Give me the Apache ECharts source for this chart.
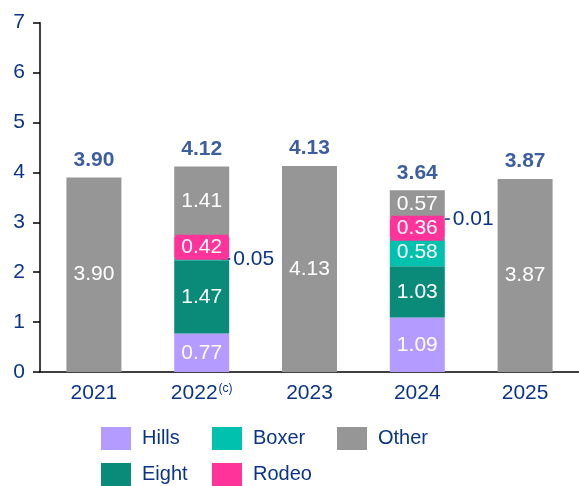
<!DOCTYPE html>
<html>
<head>
<meta charset="utf-8">
<script src="https://cdn.jsdelivr.net/npm/echarts@6/dist/echarts.min.js"></script>
<style>
  html, body { margin: 0; padding: 0; background: #fff; }
  #chart { width: 579px; height: 486px; }
</style>
</head>
<body>
<div id="chart"></div>
<script>
// data
var years = ['2021', '2022', '2023', '2024', '2025'];
var hills = [0, 0.77, 0, 1.09, 0];
var eight = [0, 1.47, 0, 1.03, 0];
var boxer = [0, 0.05, 0, 0.58, 0];
var rodeo = [0, 0.42, 0, 0.36, 0];
var extra = [0, 0, 0, 0.01, 0];   // small unlabelled piece in 2024
var other = [3.90, 1.41, 4.13, 0.57, 3.87];
var totals = [3.90, 4.12, 4.13, 3.64, 3.87];

var blue = '#0B3487';
var colors = {
  Hills: '#B39BFF',
  Eight: '#0A8A78',
  Boxer: '#00C0AE',
  Rodeo: '#FF3399',
  Other: '#969696'
};
var font = 'Arial, "Liberation Sans", sans-serif';

function fmt(v) { return v.toFixed(2); }

var insideLabel = {
  show: true,
  position: 'inside',
  color: '#fff',
  fontSize: 21,
  fontFamily: font,
  formatter: function (p) { return p.value ? fmt(p.value) : ''; }
};

// label that sits to the right of the bar with a short leader line
function sideLabel(lineW, dist) {
  return {
    show: true,
    position: 'right',
    distance: dist,
    formatter: function (p) { return '{l|}{v|' + fmt(p.value) + '}'; },
    rich: {
      l: { width: lineW, height: 1.5, backgroundColor: blue },
      v: { fontSize: 21, color: blue, fontFamily: font, padding: [0, 0, 0, 3] }
    }
  };
}

function toData(arr, special) {
  return arr.map(function (v, i) {
    if (special && special[i]) return { value: v, label: special[i] };
    if (!v) return { value: v, label: { show: false } };
    return v;
  });
}

function barSeries(name, arr, extraOpts) {
  var s = {
    name: name,
    type: 'bar',
    stack: 'total',
    barWidth: 55,
    itemStyle: { color: colors[name] },
    label: insideLabel,
    data: toData(arr)
  };
  for (var k in extraOpts) s[k] = extraOpts[k];
  return s;
}

var chart = echarts.init(document.getElementById('chart'));

function legendItem(name, left, top) {
  return {
    data: [name],
    left: left,
    top: top,
    selectedMode: false,
    icon: 'rect',
    itemWidth: 30,
    itemHeight: 23,
    textStyle: { fontSize: 20, color: blue, fontFamily: font, padding: [0, 0, 0, 6] }
  };
}

chart.setOption({
  animation: false,
  textStyle: { fontFamily: font },
  grid: { left: 40, right: -6, top: 22.7, bottom: 114 },
  legend: [
    legendItem('Hills', 96, 422),
    legendItem('Boxer', 207, 422),
    legendItem('Other', 332, 422),
    legendItem('Eight', 96, 458),
    legendItem('Rodeo', 207, 458)
  ],
  xAxis: {
    type: 'category',
    data: years,
    axisLine: { lineStyle: { color: '#000', width: 1.5 } },
    axisTick: { show: false },
    axisLabel: {
      interval: 0,
      color: blue,
      fontSize: 21,
      margin: 11,
      formatter: function (v) { return v === '2022' ? v + '{sup|(c)}' : v; },
      rich: {
        sup: { fontSize: 12, color: blue, padding: [0, 0, 9, 1] }
      }
    }
  },
  yAxis: {
    type: 'value',
    min: 0,
    max: 7,
    interval: 1,
    axisLine: { show: true, lineStyle: { color: '#000', width: 1.5 } },
    axisTick: { show: true, length: 7, lineStyle: { color: '#000', width: 1.5 } },
    splitLine: { show: false },
    axisLabel: { color: blue, fontSize: 21, margin: 15 }
  },
  series: [
    barSeries('Hills', hills),
    barSeries('Eight', eight),
    {
      name: 'Boxer',
      type: 'bar',
      stack: 'total',
      barWidth: 55,
      itemStyle: { color: colors.Boxer },
      label: insideLabel,
      data: toData(boxer, { 1: sideLabel(9, -8) })
    },
    barSeries('Rodeo', rodeo, {
      label: {
        show: true,
        position: 'inside',
        color: '#fff',
        fontSize: 21,
        backgroundColor: colors.Rodeo,
        padding: [2, 6],
        formatter: function (p) { return fmt(p.value); }
      }
    }),
    {
      name: 'small',
      type: 'bar',
      stack: 'total',
      barWidth: 55,
      itemStyle: { color: colors.Rodeo },
      data: toData(extra, { 3: sideLabel(5, 0) }),
      label: { show: false }
    },
    barSeries('Other', other),
    {
      name: 'Total',
      type: 'scatter',
      symbolSize: 0,
      data: totals,
      label: {
        show: true,
        position: 'top',
        distance: 7,
        color: blue,
        fontSize: 21,
        fontWeight: 'bold',
        formatter: function (p) { return fmt(p.value); }
      }
    }
  ]
});
</script>
</body>
</html>
